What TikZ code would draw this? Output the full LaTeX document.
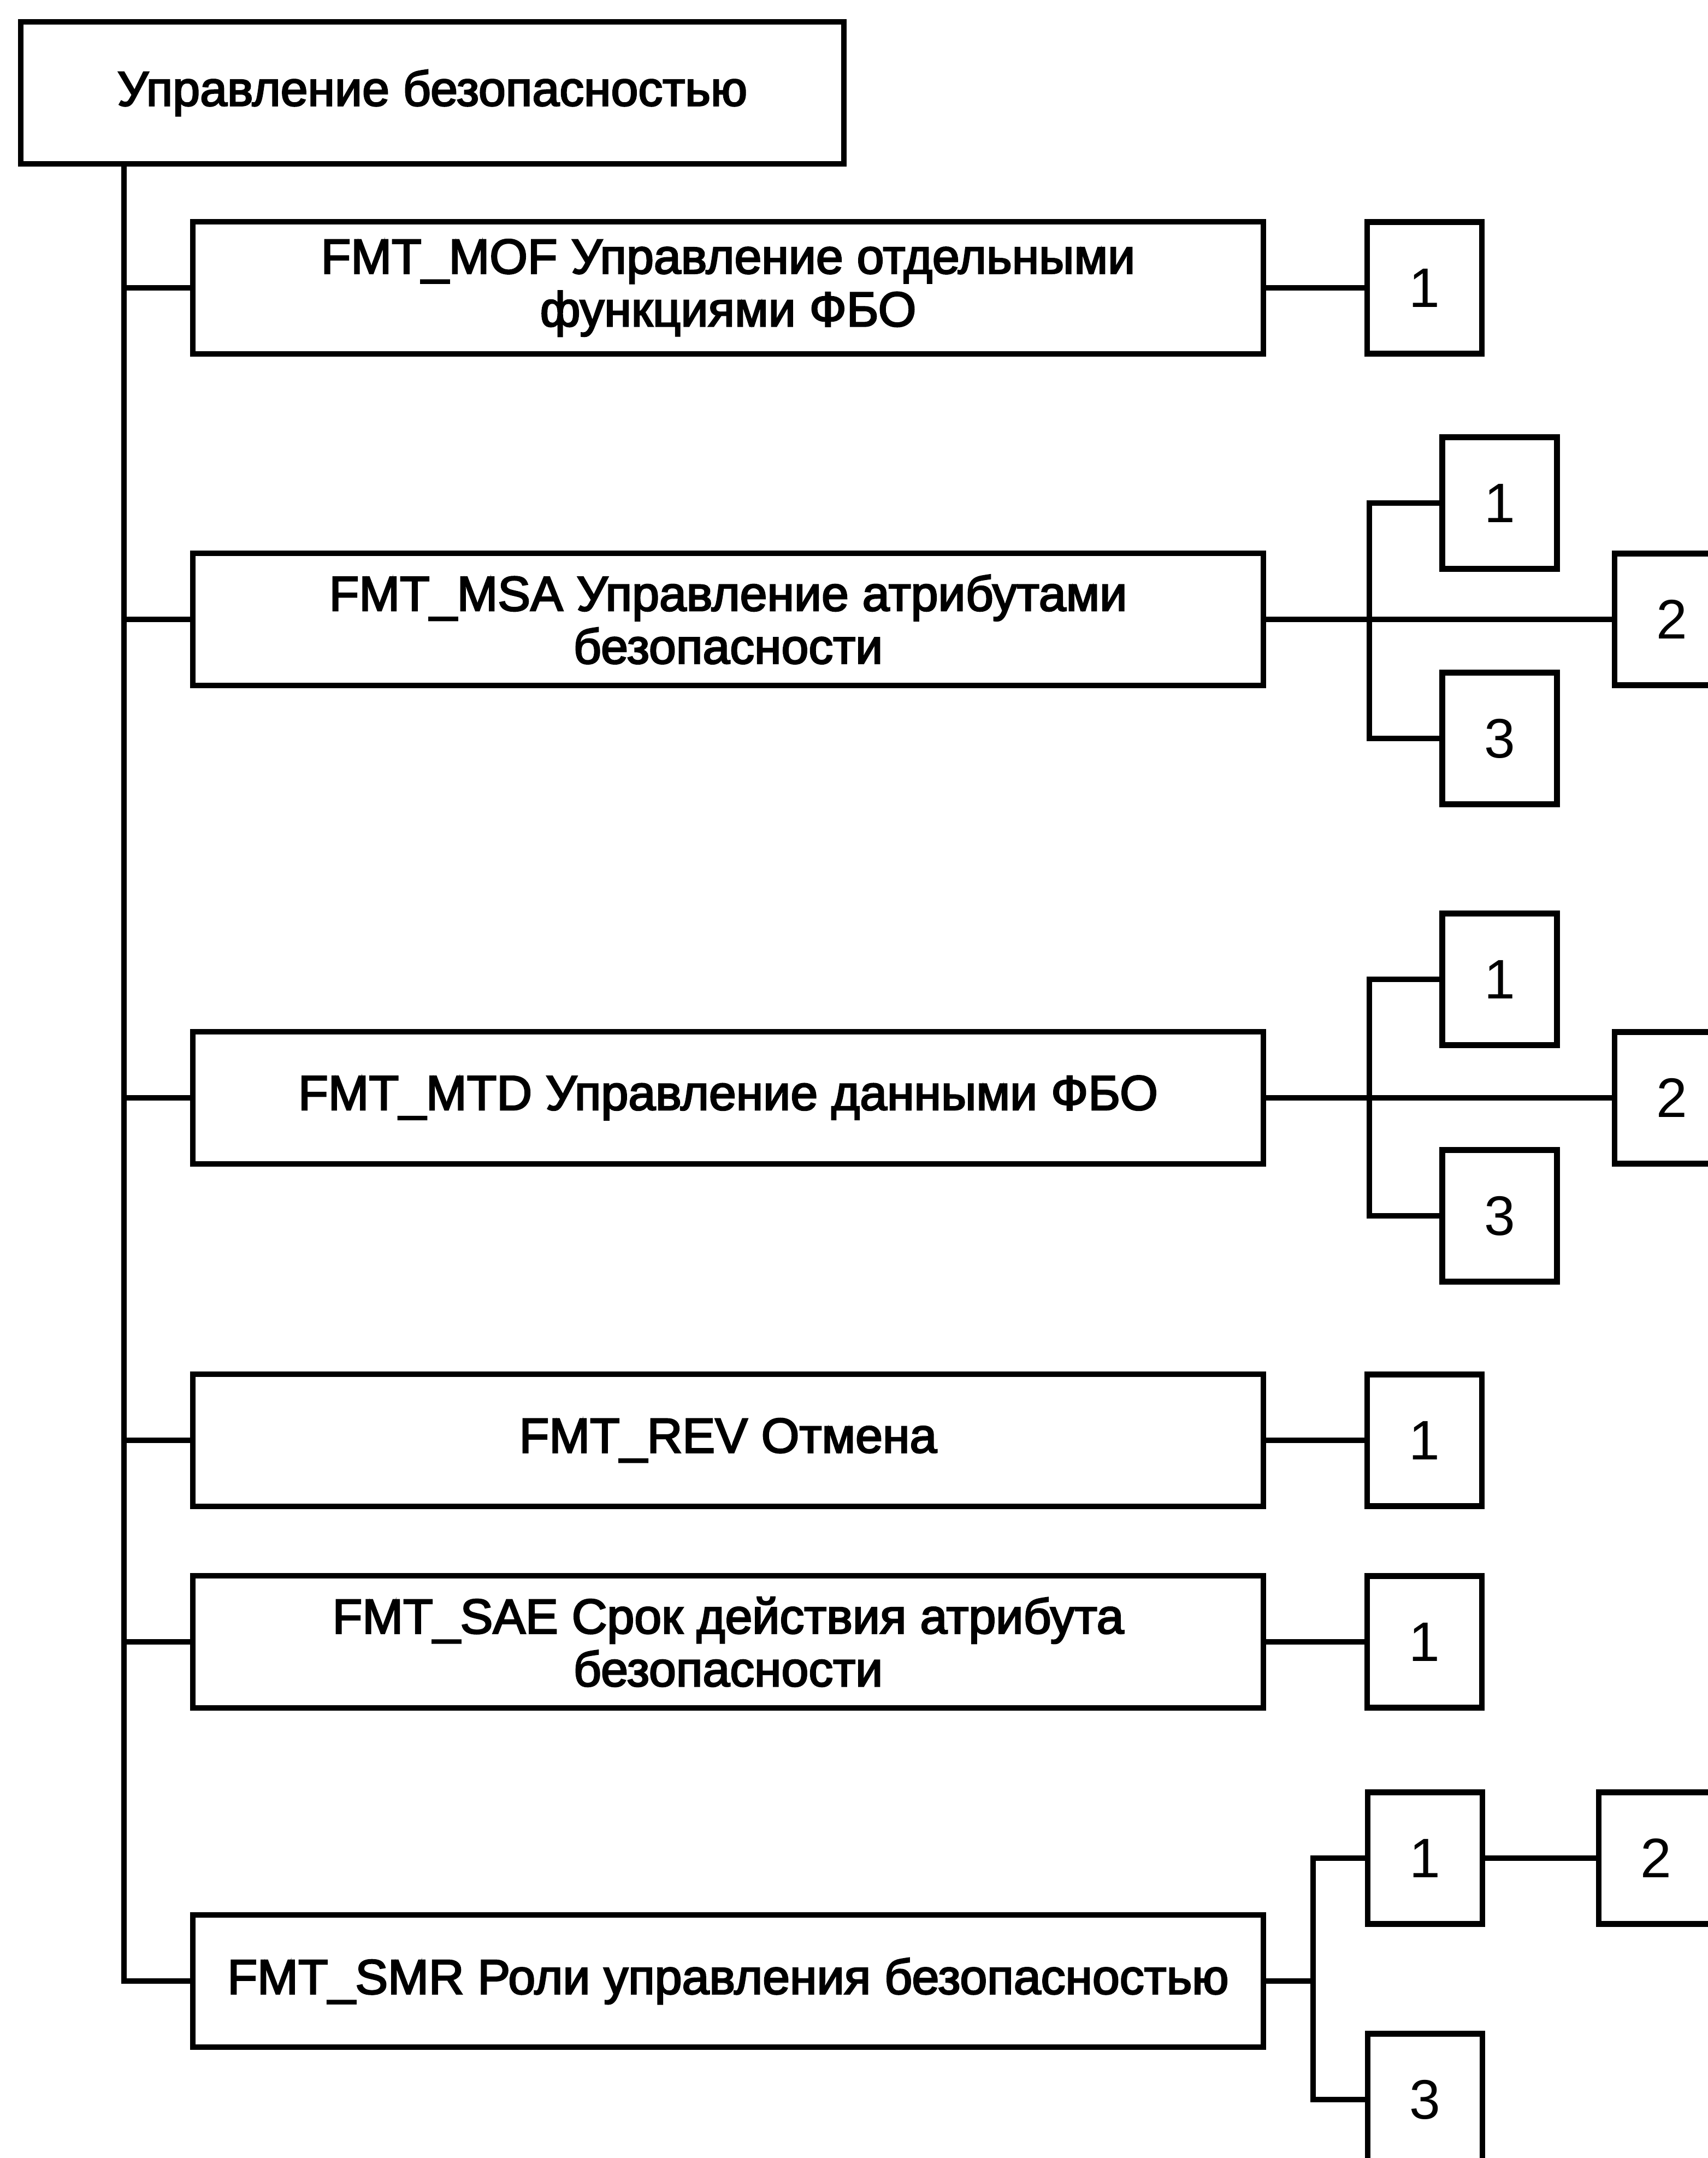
\documentclass[tikz,border=0pt]{standalone}
\usepackage{fontspec}
\setmainfont{Liberation Sans}
\newfontfamily\lblfont{Liberation Sans}[BoldFont={Liberation Sans}, BoldFeatures={FakeBold=3}]
\begin{document}
\begin{tikzpicture}[
  every node/.style={inner sep=0pt},
  box/.style={draw, line width=2.9pt, align=center, font=\lblfont\bfseries\fontsize{25.5}{27.5}\selectfont},
  bigbox/.style={box, minimum width=19.6cm, minimum height=2.42cm},
  numbox/.style={box, minimum width=2.1cm, minimum height=2.41cm, font=\fontsize{29}{31}\selectfont},
  conn/.style={line width=2.9pt}
]
\clip (0,0) rectangle (31.27,-39.51);
\fill[white] (0,0) rectangle (31.27,-39.51);

\node[box, minimum width=15.07cm, minimum height=2.6cm] (root) at (7.915,-1.70) {Управление безопасностью};

\node[bigbox] (mof) at (13.33,-5.27) {FMT\_MOF Управление отдельными\\функциями ФБО};
\node[bigbox] (msa) at (13.33,-11.34) {FMT\_MSA Управление атрибутами\\безопасности};
\node[bigbox] (mtd) at (13.33,-20.10) {FMT\_MTD Управление данными ФБО};
\node[bigbox] (rev) at (13.33,-26.37) {FMT\_REV Отмена};
\node[bigbox] (sae) at (13.33,-30.06) {FMT\_SAE Срок действия атрибута\\безопасности};
\node[bigbox] (smr) at (13.33,-36.27) {FMT\_SMR Роли управления безопасностью};

\node[numbox] (mof1) at (26.08,-5.27) {1};
\node[numbox] (msa1) at (27.455,-9.21) {1};
\node[numbox] (msa2) at (30.61,-11.34) {2};
\node[numbox] (msa3) at (27.455,-13.52) {3};
\node[numbox] (mtd1) at (27.455,-17.93) {1};
\node[numbox] (mtd2) at (30.61,-20.10) {2};
\node[numbox] (mtd3) at (27.455,-22.26) {3};
\node[numbox] (rev1) at (26.08,-26.37) {1};
\node[numbox] (sae1) at (26.08,-30.06) {1};
\node[numbox] (smr1) at (26.09,-34.02) {1};
\node[numbox] (smr2) at (30.32,-34.02) {2};
\node[numbox] (smr3) at (26.09,-38.44) {3};

\coordinate (trunk) at (2.27,0);
\coordinate (msab) at (25.07,0);
\coordinate (mtdb) at (25.07,0);
\coordinate (smrb) at (24.04,0);

% main trunk
\draw[conn] (root.south -| trunk) |- (smr.west);
\draw[conn] (mof.west -| trunk) -- (mof.west);
\draw[conn] (msa.west -| trunk) -- (msa.west);
\draw[conn] (mtd.west -| trunk) -- (mtd.west);
\draw[conn] (rev.west -| trunk) -- (rev.west);
\draw[conn] (sae.west -| trunk) -- (sae.west);

% children
\draw[conn] (mof.east) -- (mof1.west);
\draw[conn] (rev.east) -- (rev1.west);
\draw[conn] (sae.east) -- (sae1.west);

\draw[conn] (msa.east) -- (msa2.west);
\draw[conn] (msa1.west) -- (msa1.west -| msab) -- (msa3.west -| msab) -- (msa3.west);

\draw[conn] (mtd.east) -- (mtd2.west);
\draw[conn] (mtd1.west) -- (mtd1.west -| mtdb) -- (mtd3.west -| mtdb) -- (mtd3.west);

\draw[conn] (smr.east) -- (smr.east -| smrb);
\draw[conn] (smr1.west) -- (smr1.west -| smrb) -- (smr3.west -| smrb) -- (smr3.west);
\draw[conn] (smr1.east) -- (smr2.west);
\end{tikzpicture}
\end{document}
